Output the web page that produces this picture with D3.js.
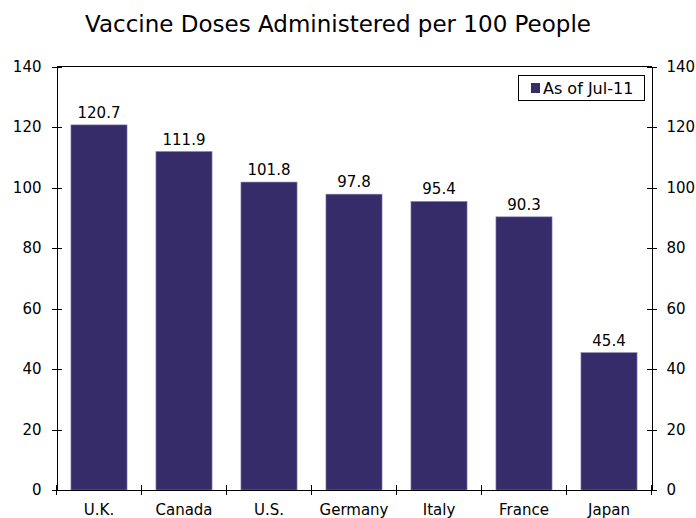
<!DOCTYPE html>
<html>
<head>
<meta charset="utf-8">
<script src="https://cdn.jsdelivr.net/npm/d3@7"></script>
<style>
  body { margin: 0; background: #fff; }
  svg text { font-family: Verdana, "DejaVu Sans", sans-serif; fill: #000; }
  .axis path, .axis line { stroke: #000; shape-rendering: crispEdges; }
</style>
</head>
<body>
<div id="chart"></div>
<script>
// chart data
const countries = ["U.K.", "Canada", "U.S.", "Germany", "Italy", "France", "Japan"];
const doses = [120.7, 111.9, 101.8, 97.8, 95.4, 90.3, 45.4];
const yTicks = [0, 20, 40, 60, 80, 100, 120, 140];
const seriesLabel = "As of Jul-11";
const chartTitle = "Vaccine Doses Administered per 100 People";

const W = 696, H = 518;
const margin = {top: 66.5, right: 44.5, bottom: 28, left: 56.5};
const width = W - margin.left - margin.right,
      height = H - margin.top - margin.bottom;
const barColor = "#372c6a";

const svg = d3.select("#chart").append("svg")
    .attr("width", W)
    .attr("height", H);

svg.append("text")
    .attr("x", 338)
    .attr("y", 32)
    .attr("text-anchor", "middle")
    .style("font-size", "23px")
    .text(chartTitle);

const g = svg.append("g")
    .attr("transform", "translate(" + margin.left + "," + margin.top + ")");

const x = d3.scaleBand().domain(countries).range([0, width])
    .paddingInner(0.34).paddingOuter(0.17);
const y = d3.scaleLinear().domain([0, 140]).range([height, 0]);

// top border
g.append("line")
    .attr("x1", 0).attr("x2", width)
    .attr("y1", 0).attr("y2", 0)
    .attr("stroke", "#000")
    .attr("shape-rendering", "crispEdges");

// bars
g.selectAll(".bar")
    .data(doses)
    .enter().append("rect")
    .attr("class", "bar")
    .attr("x", (d, i) => x(countries[i]))
    .attr("y", d => y(d))
    .attr("width", x.bandwidth())
    .attr("height", d => height - y(d))
    .attr("fill", barColor)
    .attr("stroke", "#8a84b0")
    .attr("stroke-width", 0.6);

// value labels
g.selectAll(".val")
    .data(doses)
    .enter().append("text")
    .attr("x", (d, i) => x(countries[i]) + x.bandwidth() / 2)
    .attr("y", d => y(d) - 7)
    .attr("text-anchor", "middle")
    .style("font-size", "15px")
    .text(d => d.toFixed(1));

// left axis
const yLeft = g.append("g").attr("class", "axis")
    .call(d3.axisLeft(y).tickValues(yTicks).tickSize(5).tickSizeOuter(0).tickPadding(10));
yLeft.selectAll(".tick line").attr("x1", 5);
yLeft.selectAll("text").style("font-size", "15px");

// right axis
const yRight = g.append("g").attr("class", "axis")
    .attr("transform", "translate(" + width + ",0)")
    .call(d3.axisRight(y).tickValues(yTicks).tickSize(5).tickSizeOuter(0).tickPadding(10));
yRight.selectAll(".tick line").attr("x1", -5);
yRight.selectAll("text").style("font-size", "15px");

// bottom axis, ticks between categories
const xAxis = g.append("g").attr("class", "axis")
    .attr("transform", "translate(0," + height + ")")
    .call(d3.axisBottom(x).tickSize(0).tickSizeOuter(0).tickPadding(14));
xAxis.selectAll("text").style("font-size", "15px");
const step = x.step();
xAxis.selectAll(".sep")
    .data(d3.range(countries.length + 1))
    .enter().append("line")
    .attr("class", "sep")
    .attr("x1", i => i * step).attr("x2", i => i * step)
    .attr("y1", -5).attr("y2", 5);

// legend
const legend = g.append("g")
    .attr("transform", "translate(" + (width - 133.5) + "," + 8.5 + ")");
legend.append("rect")
    .attr("width", 126).attr("height", 25)
    .attr("fill", "#fff").attr("stroke", "#000")
    .attr("shape-rendering", "crispEdges");
legend.append("rect")
    .attr("x", 13).attr("y", 8)
    .attr("width", 9).attr("height", 10)
    .attr("fill", barColor);
legend.append("text")
    .attr("x", 25).attr("y", 19)
    .style("font-size", "16px")
    .text(seriesLabel);
</script>
</body>
</html>
